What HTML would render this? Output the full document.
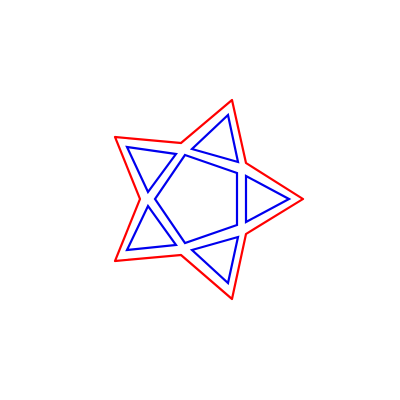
<!DOCTYPE html>
<html><head><meta charset="utf-8"><style>html,body{margin:0;padding:0;background:#fff}svg{display:block}</style></head>
<body>
<svg id="chart" width="400" height="400">
<polygon points="232,100 246,163 303,199 246,234 232,299 181,255 115,261 140,199 115,137 181,143" fill="none" stroke="#ff0000" stroke-width="2.2" stroke-linejoin="round"/>
<polygon points="185,155 237,173 237,225 185,243 155,199" fill="none" stroke="#0000ee" stroke-width="2.2"/>
<polygon points="228,115 238,162 192,149" fill="none" stroke="#0000ee" stroke-width="2.2"/>
<polygon points="289,199 246,176 246,222" fill="none" stroke="#0000ee" stroke-width="2.2"/>
<polygon points="238,237 228,283 192,250" fill="none" stroke="#0000ee" stroke-width="2.2"/>
<polygon points="127,250 176,245 148,206" fill="none" stroke="#0000ee" stroke-width="2.2"/>
<polygon points="127,147 176,154 148,192" fill="none" stroke="#0000ee" stroke-width="2.2"/>
</svg>
</body></html>
